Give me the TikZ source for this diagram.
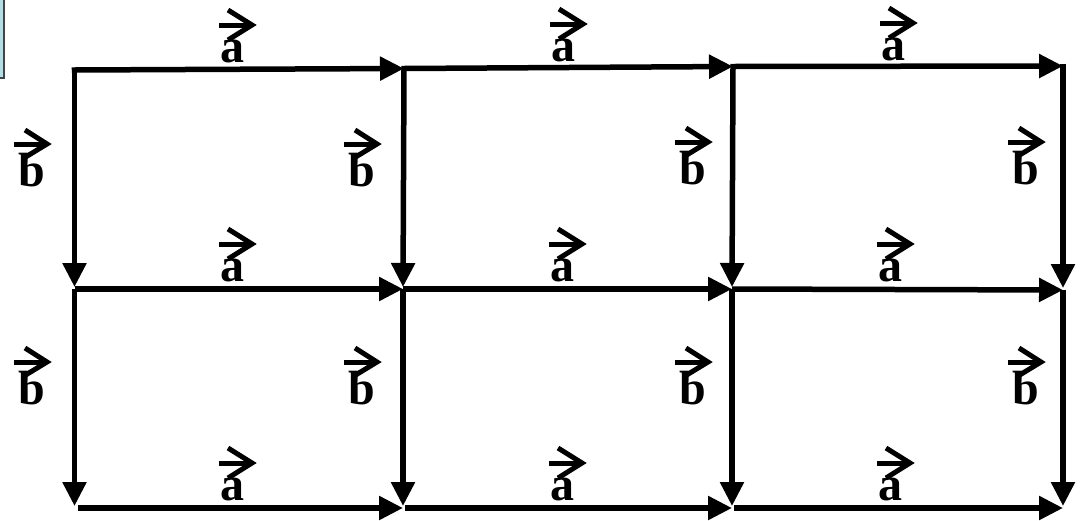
\documentclass[tikz,border=0pt]{standalone}
\usepackage{fontspec}
\setmainfont{Liberation Serif}
\usetikzlibrary{arrows.meta}
\definecolor{boxblue}{RGB}{180,222,228}
\definecolor{boxedge}{RGB}{60,70,75}
\tikzset{
  edge/.style={line width=5.5pt, -{Triangle[length=24pt,width=23pt]}},
  lbl/.style={inner sep=0pt, anchor=base, font=\fontsize{48}{48}\selectfont\bfseries},
  varr/.style={line width=5pt, line join=miter, line cap=butt},
}
\newcommand\alabel[3]{%
  \node[lbl] (#1) at (#2,#3) {a};
  \draw[varr] ([shift={(-13,-37)}]#1.base) -- ([shift={(20,-37)}]#1.base);
  \draw[varr] ([shift={(-4,-52)}]#1.base) -- ([shift={(20,-37)}]#1.base) -- ([shift={(-4,-22)}]#1.base);
}
\newcommand\blabel[3]{%
  \node[lbl] (#1) at (#2,#3) {b};
  \draw[varr] ([shift={(-18,-42)}]#1.base) -- ([shift={(15,-42)}]#1.base);
  \draw[varr] ([shift={(-7,-56)}]#1.base) -- ([shift={(15,-42)}]#1.base) -- ([shift={(-8,-28)}]#1.base);
}
\begin{document}
\begin{tikzpicture}[x=1pt,y=-1pt]
\useasboundingbox (0,0) rectangle (1083,520);
\begin{scope}
\clip (0,0) rectangle (1083,520);
\draw[boxedge, fill=boxblue, line width=1.5pt] (-10,-10) rectangle (4,78);
\end{scope}
% grid points
\coordinate (p00) at (74.5,70);  \coordinate (p10) at (404,68.5); \coordinate (p20) at (733,66.5); \coordinate (p30) at (1063,66);
\coordinate (p01) at (74.5,289); \coordinate (p11) at (403,289);  \coordinate (p21) at (732,289);  \coordinate (p31) at (1063,290);
\coordinate (p02) at (74.5,508); \coordinate (p12) at (403,508);  \coordinate (p22) at (732,508);  \coordinate (p32) at (1063,508);
% horizontal arrows
\draw[edge, shorten <=-2.75pt] (p00) -- (p10);
\draw[edge] (p10) -- (p20);
\draw[edge] (p20) -- (p30);
\draw[edge] (p01) -- (p11);
\draw[edge] (p11) -- (p21);
\draw[edge] (p21) -- (p31);
\draw[edge, shorten <=3pt] (p02) -- (p12);
\draw[edge, shorten <=2pt] (p12) -- (p22);
\draw[edge, shorten <=2pt] (p22) -- (p32);
% vertical arrows
\foreach \c in {0,1,2,3}{
  \draw[edge, shorten >=2pt, shorten <=-2.5pt] (p\c0) -- (p\c1);
  \draw[edge, shorten >=2pt] (p\c1) -- (p\c2);
}
% labels
\alabel{a1}{232}{62}
\alabel{a2}{563}{61}
\alabel{a3}{893}{60}
\alabel{a4}{232}{281}
\alabel{a5}{562}{281}
\alabel{a6}{890}{281}
\alabel{a7}{232}{500}
\alabel{a8}{562}{500}
\alabel{a9}{890}{500}
\blabel{b1}{32}{186}
\blabel{b2}{362}{186}
\blabel{b3}{693}{184}
\blabel{b4}{1026}{184}
\blabel{b5}{32}{404}
\blabel{b6}{362}{404}
\blabel{b7}{693}{404}
\blabel{b8}{1026}{404}
\end{tikzpicture}
\end{document}
